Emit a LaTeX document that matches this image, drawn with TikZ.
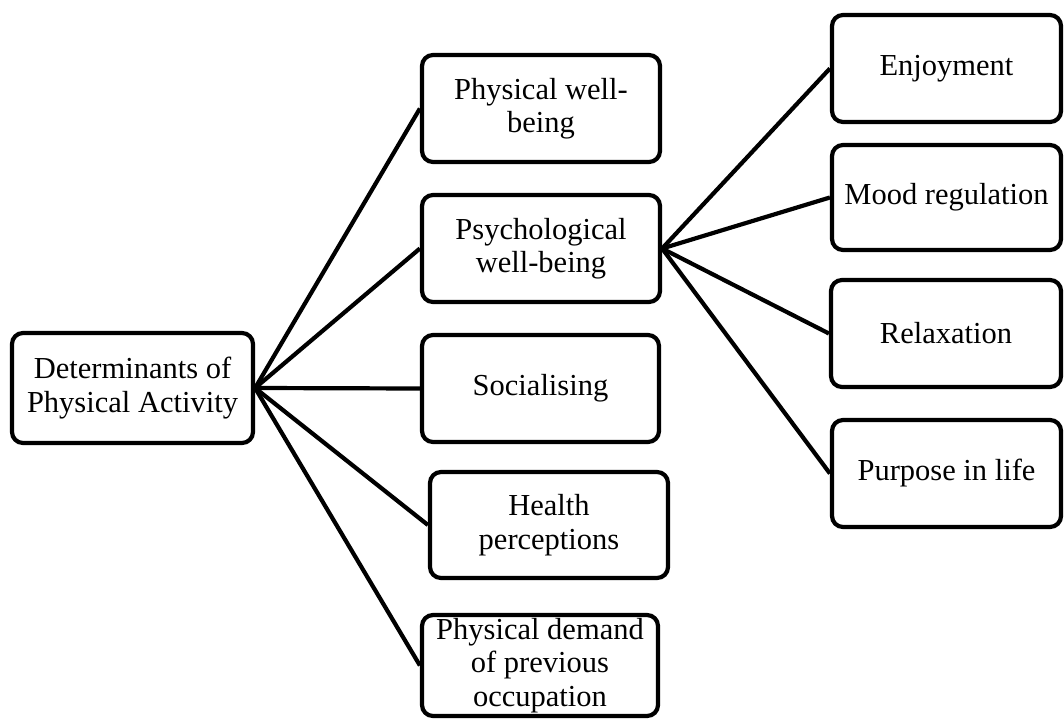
\documentclass[tikz,border=0pt]{standalone}
\usepackage{fontspec}
\setmainfont{Liberation Serif}
\begin{document}
\begin{tikzpicture}[x=1pt,y=-1pt,
  box/.style={draw=black, line width=4.2pt, rounded corners=11pt, fill=white,
    inner sep=0pt, align=center, font=\fontsize{30.5}{33.5}\selectfont},
  link/.style={draw=black, line width=4.2pt}]
  \useasboundingbox (0,0) rectangle (1064,719);

  % root
  \node[box, minimum width=241pt, minimum height=110pt] (root) at (132.5,388) {Determinants of\\Physical Activity};

  % middle column
  \node[box, minimum width=238pt, minimum height=107pt] (pwb) at (541,108.5) {Physical well-\\being};
  \node[box, minimum width=238pt, minimum height=107pt] (psy) at (541,248.5) {Psychological\\well-being};
  \node[box, minimum width=237pt, minimum height=107pt] (soc) at (540.5,388.5) {Socialising};
  \node[box, minimum width=238pt, minimum height=106pt] (hp) at (549,525) {Health\\perceptions};
  \node[box, minimum width=236pt, minimum height=101pt] (pd) at (540,665.5) {Physical demand\\of previous\\occupation};

  % right column
  \node[box, minimum width=229pt, minimum height=107pt] (enj) at (946.5,68.5) {Enjoyment};
  \node[box, minimum width=229pt, minimum height=105pt] (mood) at (946.5,197.5) {Mood regulation};
  \node[box, minimum width=230pt, minimum height=107pt] (rel) at (946,333.5) {Relaxation};
  \node[box, minimum width=229pt, minimum height=107pt] (pur) at (946.5,473.5) {Purpose in life};

  % connectors
  \foreach \n in {pwb,psy,soc,hp,pd} \draw[link] (root.east) -- (\n.west);
  \foreach \n in {enj,mood,rel,pur} \draw[link] (psy.east) -- (\n.west);
\end{tikzpicture}
\end{document}
